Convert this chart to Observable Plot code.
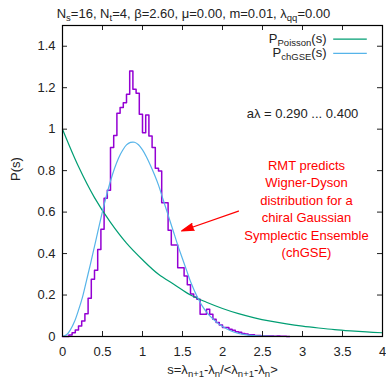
<!DOCTYPE html>
<html><head><meta charset="utf-8">
<script src="https://cdn.jsdelivr.net/npm/d3@7"></script>
<script src="https://cdn.jsdelivr.net/npm/@observablehq/plot@0.6"></script>
<style>
html,body{margin:0;padding:0;background:#fff}
</style>
</head><body><div id="chart"></div>
<script>
// ---- data ----
const binWidth = 0.04;
const histValues = [
  0, 0, 0.007, 0.018, 0.031, 0.051, 0.075, 0.11, 0.184, 0.276,
  0.319, 0.42, 0.517, 0.667, 0.705, 0.911, 0.97, 1.077, 1.104, 1.128,
  1.168, 1.281, 1.192, 1.173, 1.072, 0.983, 1.068, 0.967, 0.911, 0.811,
  0.798, 0.645, 0.645, 0.513, 0.441, 0.441, 0.332, 0.332, 0.292, 0.25,
  0.205, 0.19, 0.18, 0.107, 0.107, 0.131, 0.107, 0.083, 0.067, 0.055,
  0.043, 0.043, 0.035, 0.03, 0.023, 0.02, 0.015, 0.012, 0.008, 0.008,
  0.005, 0.005, 0.003, 0.003, 0.002, 0.002, 0.001, 0.002, 0.001, 0.001, 0
];
const poissonS = [0,0.2,0.4,0.6,0.8,1,1.2,1.4,1.6,1.8,2,2.2,2.4,2.6,2.8,3,3.2,3.4,3.6,3.8,4];
const poissonP = [1,0.82,0.67,0.55,0.45,0.37,0.30,0.25,0.20,0.165,0.135,0.11,0.09,0.074,0.061,0.05,0.041,0.033,0.027,0.022,0.018];
const gseS = [0,0.05,0.1,0.15,0.2,0.25,0.3,0.35,0.4,0.45,0.5,0.55,0.6,0.65,0.7,0.75,0.8,0.85,0.9,0.95,1.0,1.05,1.1,1.15,1.2,1.25,1.3,1.35,1.4,1.45,1.5,1.55,1.6,1.65,1.7,1.75,1.8,1.9,2.0,2.1,2.2,2.3,2.4,2.6,2.8,3.2,4];
const gseP = [0,0.008,0.033,0.072,0.127,0.19,0.27,0.35,0.435,0.52,0.604,0.68,0.75,0.81,0.86,0.897,0.924,0.936,0.937,0.925,0.9,0.866,0.825,0.78,0.73,0.67,0.61,0.55,0.49,0.43,0.375,0.32,0.265,0.22,0.18,0.145,0.118,0.078,0.048,0.028,0.015,0.008,0.004,0.001,0,0,0];
const xTicks = [0,0.5,1,1.5,2,2.5,3,3.5,4];
const yTicks = [0,0.2,0.4,0.6,0.8,1,1.2,1.4];
const titleText = "N_s=16, N_t=4, β=2.60, μ=0.00, m=0.01, λ_{qq}=0.00";
const xLabel = "s=λ_{n+1}-λ_n/<λ_{n+1}-λ_n>";
const yLabel = "P(s)";
const legendLabels = ["P_{Poisson}(s)", "P_{chGSE}(s)"];
const rangeText = "aλ = 0.290 ... 0.400";
const noteLines = ["RMT predicts","Wigner-Dyson","distribution for a","chiral Gaussian","Symplectic Ensemble","(chGSE)"];

// ---- build tables ----
const hist = histValues.map((v,i)=>({s:i*binWidth, p:v}));
hist.push({s: histValues.length*binWidth, p: 0});
const poisson = poissonS.map((s,i)=>({s, p:poissonP[i]}));
const gse = gseS.map((s,i)=>({s, p:gseP[i]}));

// ---- layout ----
const W=386, H=380, mL=62, mR=4, mT=25, mB=44;
const pw=W-mL-mR, ph=H-mT-mB, tk=5;
const cPurple="#9400d3", cGreen="#009e73", cBlue="#56b4e9", ink="#222";
const font="'Liberation Sans', Arial, sans-serif";

const plot = Plot.plot({
  width: W, height: H,
  marginLeft: mL, marginRight: mR, marginTop: mT, marginBottom: mB,
  style: {fontFamily: font, fontSize: "13px", color: ink, background: "#fff"},
  x: {domain: [0,4]},
  y: {domain: [0,1.5]},
  marks: [
    Plot.line(hist, {x:"s", y:"p", curve:"step-after", stroke:cPurple, strokeWidth:1.5}),
    Plot.line(poisson, {x:"s", y:"p", curve:"catmull-rom", stroke:cGreen, strokeWidth:1.2}),
    Plot.line(gse, {x:"s", y:"p", curve:"catmull-rom", stroke:cBlue, strokeWidth:1.2}),
    Plot.tickX(xTicks, {x:d=>d, insetTop: ph-tk, stroke:ink}),
    Plot.tickX(xTicks, {x:d=>d, insetBottom: ph-tk, stroke:ink}),
    Plot.tickY(yTicks, {y:d=>d, insetRight: pw-tk, stroke:ink}),
    Plot.tickY(yTicks, {y:d=>d, insetLeft: pw-tk, stroke:ink}),
    Plot.frame({stroke:"#000", strokeWidth:1.2}),
    Plot.axisX(xTicks, {tickSize:0, tickPadding:10, label:null, fontSize:13, tickFormat:d=>String(d)}),
    Plot.axisY(yTicks, {tickSize:0, tickPadding:7, label:null, fontSize:13, tickFormat:d=>String(d)}),
    Plot.text([yLabel], {text:d=>d, frameAnchor:"left", dx:-47, rotate:-90, fontSize:13, lineAnchor:"middle", fill:ink}),
    Plot.text([titleText], {text:d=>d, frameAnchor:"top", dx:-29, dy:-12, fontSize:13, lineAnchor:"middle", fill:ink}),
    Plot.text([xLabel], {text:d=>d, frameAnchor:"bottom", dy:33, fontSize:13, lineAnchor:"middle", fill:ink}),
    Plot.text([legendLabels[0]], {text:d=>d, frameAnchor:"top-right", dx:-56, dy:13, textAnchor:"end", lineAnchor:"middle", fontSize:13, fill:ink}),
    Plot.text([legendLabels[1]], {text:d=>d, frameAnchor:"top-right", dx:-56, dy:27, textAnchor:"end", lineAnchor:"middle", fontSize:13, fill:ink}),
    Plot.ruleY([1.434], {x1:3.39, x2:3.81, stroke:cGreen, strokeWidth:1.2}),
    Plot.ruleY([1.366], {x1:3.39, x2:3.81, stroke:cBlue, strokeWidth:1.2}),
    Plot.text([rangeText], {text:d=>d, x:3.0, y:1.073, fontSize:13, fill:ink}),
    Plot.text([noteLines.join("\n")], {text:d=>d, x:3.05, y:0.62, fontSize:13, lineHeight:1.35, fill:"#ff0000"}),
    Plot.arrow([0], {x1:2.2, y1:0.605, x2:1.4875, y2:0.509, stroke:"#ff0000", fill:"#ff0000", strokeWidth:1.2, headLength:16, headAngle:32})
  ]
});

// subscripts as real tspans
const NS="http://www.w3.org/2000/svg";
function richify(el){
  const s = el.textContent;
  if (!s.includes("_") || el.querySelector("tspan")) return;
  el.textContent = "";
  const re=/_(\{([^}]*)\}|([A-Za-z0-9]+))/g;
  let last=0, m, shifted=false;
  const add=(txt, sub)=>{
    const t=document.createElementNS(NS,"tspan");
    t.textContent=txt;
    if (sub){ t.setAttribute("font-size","9.5"); t.setAttribute("dy","3"); }
    else if (shifted){ t.setAttribute("dy","-3"); }
    shifted=sub;
    el.appendChild(t);
  };
  while((m=re.exec(s))){
    if (m.index>last) add(s.slice(last,m.index), false);
    add(m[2]!==undefined?m[2]:m[3], true);
    last=re.lastIndex;
  }
  if (last<s.length) add(s.slice(last), false);
}
plot.querySelectorAll("text").forEach(richify);
document.getElementById("chart").appendChild(plot);
</script>
</body></html>
